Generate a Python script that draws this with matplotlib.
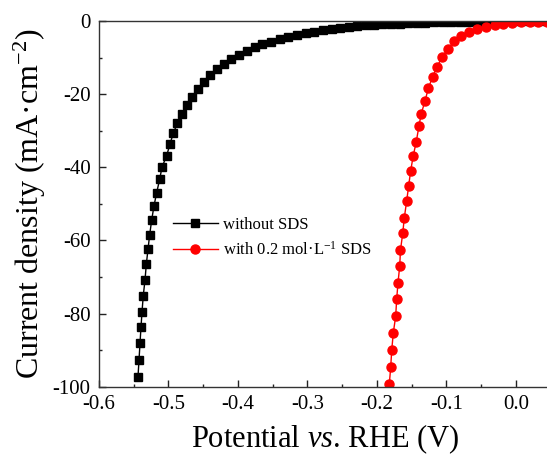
import numpy as np
import matplotlib
matplotlib.use('Agg')
import matplotlib.pyplot as plt
from matplotlib.ticker import MultipleLocator

plt.rcParams['font.family'] = ['Liberation Serif', 'DejaVu Serif']
plt.rcParams['mathtext.fontset'] = 'custom'
plt.rcParams['mathtext.rm'] = 'Liberation Serif'
plt.rcParams['mathtext.it'] = 'Liberation Serif:italic'

# without SDS (black squares)
pot_plain = [-0.5439, -0.5424, -0.5410, -0.5396, -0.5381, -0.5363, -0.5338, -0.5319,
             -0.5295, -0.5271, -0.5242, -0.5209, -0.5170, -0.5127, -0.5094, -0.5026,
             -0.4978, -0.4931, -0.4873, -0.4810, -0.4738, -0.4666, -0.4580, -0.4489,
             -0.4407, -0.4306, -0.4206, -0.4096, -0.3986, -0.3866, -0.3760, -0.3650,
             -0.3530, -0.3400, -0.3276, -0.3147, -0.3026, -0.2902, -0.2777, -0.2652,
             -0.2528, -0.2403, -0.2283, -0.2163, -0.2039, -0.1924, -0.1800, -0.1676,
             -0.1552, -0.1428, -0.1304, -0.1180, -0.1056, -0.0932, -0.0808, -0.0684,
             -0.0560, -0.0436, -0.0312, -0.0188, -0.0064, 0.0060, 0.0184, 0.0308, 0.0432]
cur_plain = [-97.3, -92.6, -88.1, -83.8, -79.5, -75.1, -70.8, -66.5,
             -62.4, -58.5, -54.4, -50.6, -46.9, -43.3, -40.0, -36.8,
             -33.6, -30.7, -28.0, -25.4, -23.0, -20.9, -18.6, -16.6,
             -14.8, -13.1, -11.8, -10.5, -9.3, -8.2, -7.2, -6.4,
             -5.7, -5.0, -4.4, -3.8, -3.4, -2.9, -2.5, -2.2,
             -1.9, -1.6, -1.4, -1.2, -1.0, -0.9, -0.8, -0.7,
             -0.6, -0.5, -0.45, -0.4, -0.35, -0.3, -0.25, -0.2,
             -0.2, -0.15, -0.1, -0.1, -0.05, -0.05, 0.0, 0.0, 0.0]

# with 0.2 mol/L SDS (red circles)
pot_sds = [-0.1823, -0.1803, -0.1788, -0.1765, -0.1731, -0.1717, -0.1698, -0.1673,
           -0.1662, -0.1630, -0.1607, -0.1573, -0.1544, -0.1515, -0.1478, -0.1435,
           -0.1396, -0.1363, -0.1309, -0.1262, -0.1199, -0.1137, -0.1060, -0.0978,
           -0.0888, -0.0787, -0.0672, -0.0557, -0.0432, -0.0307, -0.0183, -0.0053,
           0.0072, 0.0197, 0.0321, 0.0445]
cur_sds = [-99.3, -94.7, -90.0, -85.2, -80.7, -76.1, -71.6, -67.0,
           -62.6, -58.1, -53.8, -49.2, -45.0, -40.9, -36.8, -33.0,
           -28.7, -25.3, -21.9, -18.4, -15.3, -12.5, -9.8, -7.6,
           -5.6, -4.0, -2.9, -2.1, -1.6, -1.1, -0.7, -0.5,
           -0.4, -0.3, -0.2, -0.15]

fig = plt.figure(figsize=(5.47, 4.57), dpi=100)
ax = fig.add_axes([99/547, 1 - 386.7/457, 453/547, 365.7/457])

ax.plot(pot_plain, cur_plain, color='black', lw=1.0, marker='s', ms=6,
        label='without SDS')
ax.plot(pot_sds, cur_sds, color='red', lw=1.0, marker='o', ms=6.5,
        label='with 0.2 mol·L$^{-1}$ SDS')

ax.set_xlim(-0.6, 0.0518)
ax.set_ylim(-100, 0)
ax.xaxis.set_minor_locator(MultipleLocator(0.05))
ax.yaxis.set_minor_locator(MultipleLocator(10))
ax.set_xticks(np.arange(-0.6, 0.01, 0.1))
ax.set_xticklabels(['-0.6', '-0.5', '-0.4', '-0.3', '-0.2', '-0.1', '0.0'])
ax.set_yticks([0, -20, -40, -60, -80, -100])
ax.set_yticklabels(['0', '-20', '-40', '-60', '-80', '-100'])

ax.tick_params(which='both', direction='in', top=False, right=False,
               colors='#222222', labelcolor='black', labelsize=15)
ax.tick_params(which='major', length=5, width=1, pad=6)
ax.tick_params(which='minor', length=2.5, width=1)
for s in ax.spines.values():
    s.set_color('#333333')
    s.set_linewidth(1.0)
ax.spines['right'].set_visible(False)

ax.set_xlabel('Potential $\\it{vs}$. RHE (V)', fontsize=22, labelpad=6)
ax.set_ylabel('Current density (mA·cm$^{-2}$)', fontsize=23, labelpad=3)

ax.legend(loc='upper left', bbox_to_anchor=(0.163, 0.464), frameon=False,
          fontsize=12, handlelength=2.7, handletextpad=0.3, borderpad=0,
          borderaxespad=0, labelspacing=0.45)

fig.savefig('out.png', dpi=100)
